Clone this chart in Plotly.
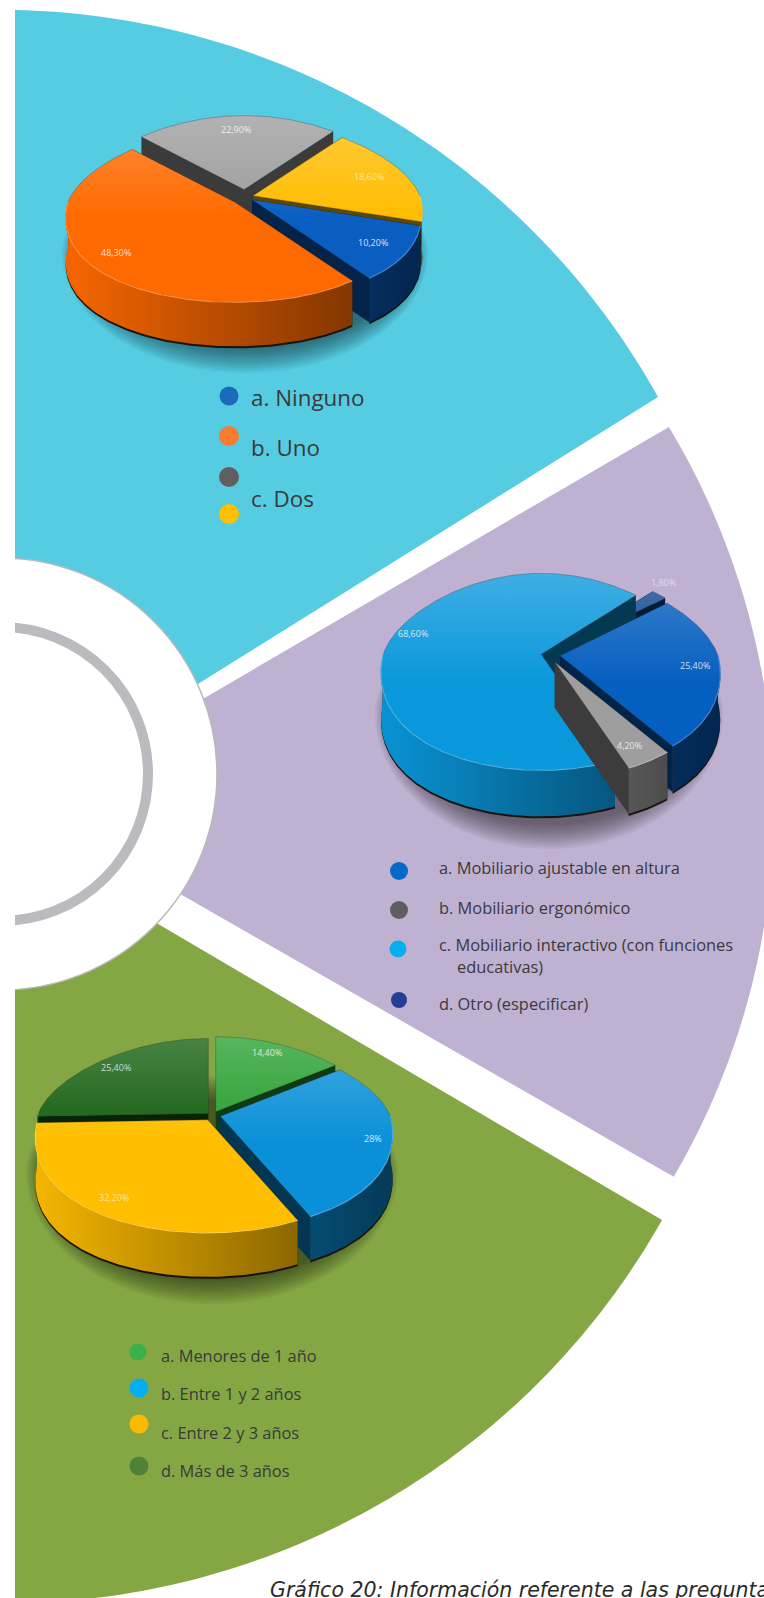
import math
import plotly.graph_objects as go

# ---------- data ----------
pie1_labels = ["a. Ninguno", "b. Uno", "c. Dos"]
pie1_values = [10.2, 48.3, 22.9, 18.6]
pie1_text = ["10,20%", "48,30%", "22,90%", "18,60%"]
pie2_labels = ["a. Mobiliario ajustable en altura", "b. Mobiliario ergonómico",
               "c. Mobiliario interactivo (con funciones", "educativas)", "d. Otro (especificar)"]
pie2_values = [25.4, 4.2, 68.6, 1.8]
pie2_text = ["25,40%", "4,20%", "68,60%", "1,80%"]
pie3_labels = ["a. Menores de 1 año", "b. Entre 1 y 2 años", "c. Entre 2 y 3 años", "d. Más de 3 años"]
pie3_values = [14.4, 28.0, 32.2, 25.4]
pie3_text = ["14,40%", "28%", "32,20%", "25,40%"]
caption = "Gráfico 20: Información referente a las preguntas"

# ---------- style ----------
W, H = 764, 1598
CYAN, PURPLE, GREEN = "#55CCE2", "#BFB1D2", "#84A744"
FONT = "'Open Sans', sans-serif"
PERSP = .17
PIES = [
    dict(values=pie1_values, text=pie1_text, cx=245, cy=197, a=167, bf=100, bb=74, th=44, start=15,
         pull=[.05, .08, .1, .05], colors=["#0A5EC2", "#FF6A00", "#9C9C9C", "#FFBC00"],
         lab_r=[.84, .87, .82, .74], lab_da=[-3, 6, 0, -2], lab_a=[.85, .8, .8, .6]),
    dict(values=pie2_values, text=pie2_text, cx=549, cy=655, a=158, bf=116, bb=81, th=46, start=-40.4,
         pull=[.07, .07, .05, .08], colors=["#055FC0", "#9E9E9E", "#0A98DC", "#134A96"],
         lab_r=[.86, .86, .85, 1.07], lab_da=[0, -2, 7.6, -8], lab_a=[.8, .8, .8, .55]),
    dict(values=pie3_values, text=pie3_text, cx=212, cy=1115, a=170, bf=113, bb=75, th=44, start=-90,
         pull=[.05, .05, .05, .03], colors=["#27A030", "#0A90D8", "#FFBE00", "#156010"],
         lab_r=[.85, .92, .88, .82], lab_da=[-5, 0, 8, 4], lab_a=[.8, .85, .6, .75]),
]
LEG_TEXT = "#3A3A3A"


def shade(c, f):
    r, g, b = int(c[1:3], 16), int(c[3:5], 16), int(c[5:7], 16)
    if f <= 1:
        r, g, b = r * f, g * f, b * f
    else:
        t = f - 1
        r, g, b = r + (255 - r) * t, g + (255 - g) * t, b + (255 - b) * t
    return f"rgb({int(r)},{int(g)},{int(b)})"


def fit_circle(p, q, r):
    ax, ay = p; bx, by = q; cx, cy = r
    d = 2 * (ax * (by - cy) + bx * (cy - ay) + cx * (ay - by))
    ux = ((ax**2 + ay**2) * (by - cy) + (bx**2 + by**2) * (cy - ay) + (cx**2 + cy**2) * (ay - by)) / d
    uy = ((ax**2 + ay**2) * (cx - bx) + (bx**2 + by**2) * (ax - cx) + (cx**2 + cy**2) * (bx - ax)) / d
    return ux, uy, math.hypot(ax - ux, ay - uy)


def arc_pts(c, p, q, n=80):
    ux, uy, R = c
    a0 = math.atan2(p[1] - uy, p[0] - ux)
    a1 = math.atan2(q[1] - uy, q[0] - ux)
    return [(ux + R * math.cos(a0 + (a1 - a0) * i / n), uy + R * math.sin(a0 + (a1 - a0) * i / n)) for i in range(n + 1)]


def path(pts):
    return "M" + " L".join(f"{x:.1f},{y:.1f}" for x, y in pts) + " Z"


shapes = []
c1 = fit_circle((15, 10), (357, 100), (658, 397))
shapes.append(dict(type="path", path=path(arc_pts(c1, (15, 10), (658, 397)) + [(15, 798)]), fillcolor=CYAN, line_width=0, layer="below"))
c2 = (38, 806, 736)
shapes.append(dict(type="path", path=path(arc_pts(c2, (672, 425), (674, 1177)) + [(100, 848), (100, 759)]), fillcolor=PURPLE, line_width=0, layer="below"))
c3 = fit_circle((662, 1220), (330, 1530), (240, 1566))
shapes.append(dict(type="path", path=path([(15, 840)] + arc_pts(c3, (662, 1220), (15, 1610)) + [(15, 1610)]), fillcolor=GREEN, line_width=0, layer="below"))
shapes.append(dict(type="circle", x0=1 - 216, x1=1 + 216, y0=774 - 216, y1=774 + 216, fillcolor="white", line=dict(color="#B7B9BC", width=1.5), layer="below"))
shapes.append(dict(type="circle", x0=1 - 147, x1=1 + 147, y0=774 - 147, y1=774 + 147, fillcolor="rgba(0,0,0,0)", line=dict(color="#B9BBBE", width=10), layer="below"))
shapes.append(dict(type="rect", x0=-5, x1=15, y0=-5, y1=H + 5, fillcolor="white", line_width=0, layer="below"))

fig = go.Figure()


def poly(xs, ys, **kw):
    fig.add_trace(go.Scatter(x=xs, y=ys, mode="lines", fill="toself", hoverinfo="skip", showlegend=False, **kw))


annotations = []
for P in PIES:
    cx, cy, a, bf, bb, th = P["cx"], P["cy"], P["a"], P["bf"], P["bb"], P["th"]
    total = sum(P["values"])

    def pt(ox, oy, deg, k=PERSP):
        t = math.radians(deg)
        s = math.sin(t)
        return ox + a * math.cos(t) * (1 + k * s), oy + (bf if s > 0 else bb) * s

    # soft shadow, below and slightly around the pie
    for n_s in range(11):
        g = 20 - n_s * 2.4
        xs, ys = [], []
        for d in range(0, 361, 4):
            x, y = pt(cx, cy + th + 12, d, 0)
            t = math.radians(d)
            xs.append(x + g * .8 * math.cos(t)); ys.append(y + g * math.sin(t))
        poly(xs, ys, line=dict(width=0), fillcolor="rgba(0,0,0,0.05)")

    wedges = []
    ang = P["start"]
    for v, col, pull, txt, lr, lda, la in zip(P["values"], P["colors"], P["pull"], P["text"], P["lab_r"], P["lab_da"], P["lab_a"]):
        span = v / total * 360
        wedges.append(dict(t0=ang, t1=ang + span, col=col, pull=pull, txt=txt, lr=lr, lda=lda, la=la))
        ang += span
    for w in wedges:
        w["mid"] = (w["t0"] + w["t1"]) / 2
    for w in sorted(wedges, key=lambda w: math.sin(math.radians(w["mid"]))):
        t = math.radians(w["mid"])
        s = math.sin(t)
        ox = cx + w["pull"] * a * math.cos(t)
        oy = cy + w["pull"] * (bf if s > 0 else bb) * s
        n = max(8, int(w["t1"] - w["t0"]))
        degs = [w["t0"] + (w["t1"] - w["t0"]) * i / n for i in range(n + 1)]
        arc = [pt(ox, oy, d) for d in degs]
        front = [pt(ox, oy, d) for d in degs if math.sin(math.radians(d)) >= -0.01]
        col = w["col"]
        for e in (arc[0], arc[-1]):
            poly([ox, e[0], e[0], ox, ox], [oy, e[1], e[1] + th, oy + th, oy],
                 line=dict(width=0), fillcolor=shade(col, .38))
        if len(front) > 1:
            poly([p[0] for p in front] + [p[0] for p in front[::-1]],
                 [p[1] + 2 for p in front] + [p[1] + th + 2 for p in front[::-1]],
                 line=dict(width=0), fillcolor="rgb(25,18,14)")
            poly([p[0] for p in front] + [p[0] for p in front[::-1]],
                 [p[1] for p in front] + [p[1] + th for p in front[::-1]],
                 line=dict(width=0),
                 fillgradient=dict(type="horizontal", start=cx - a, stop=cx + a,
                                   colorscale=[[0, shade(col, .95)], [1, shade(col, .42)]]))
        poly([ox] + [p[0] for p in arc] + [ox], [oy] + [p[1] for p in arc] + [oy],
             line=dict(width=.7, color="rgba(40,40,40,0.4)"),
             fillgradient=dict(type="vertical", start=cy - bb, stop=cy + bf,
                               colorscale=[[0, shade(col, 1.22)], [.55, col], [1, col]]))
        if len(front) > 1:
            fig.add_trace(go.Scatter(x=[p[0] for p in front], y=[p[1] for p in front], mode="lines", hoverinfo="skip",
                                     showlegend=False, line=dict(width=1.2, color=shade(col, 1.25))))
        lx, ly = pt(ox, oy, w["mid"] + w["lda"], 0)
        annotations.append(dict(x=ox + (lx - ox) * w["lr"], y=oy + (ly - oy) * w["lr"], text=w["txt"], showarrow=False,
                                font=dict(family="'Open Sans', sans-serif", size=9, color=f"rgba(255,255,255,{w['la']})")))


def legend(marks, texts, size):
    for x, y, d, c in marks:
        fig.add_trace(go.Scatter(x=[x], y=[y], mode="markers", hoverinfo="skip", showlegend=False,
                                 marker=dict(size=d, color=c, line_width=0)))
    for x, y, t in texts:
        annotations.append(dict(x=x, y=y, text=t, showarrow=False, xanchor="left",
                                font=dict(family=FONT, size=size, color=LEG_TEXT)))


legend([(229, 396, 19, "#1C6BBA"), (229, 436, 20, "#F77B30"), (229, 477, 20, "#5F5F5F"), (229, 514, 20, "#FFC000")],
       [(249, 397, pie1_labels[0]), (249, 447, pie1_labels[1]), (249, 498, pie1_labels[2])], 22.4)
legend([(399, 871, 18, "#0569C9"), (399, 910, 18, "#5E5E5E"), (398, 949, 17, "#05AEEF"), (399, 1000, 16, "#233F95")],
       [(437, 867, pie2_labels[0]), (437, 907, pie2_labels[1]), (437, 944, pie2_labels[2]),
        (455, 966, pie2_labels[3]), (437, 1003, pie2_labels[4])], 16.4)
legend([(138, 1352, 17, "#3CB04A"), (139, 1388, 19, "#05AEEF"), (139, 1424, 19, "#FFB900"), (139, 1466, 19, "#518139")],
       [(159, 1355, pie3_labels[0]), (159, 1393, pie3_labels[1]), (159, 1432, pie3_labels[2]), (159, 1470, pie3_labels[3])], 16.4)

annotations.append(dict(x=268, y=1590, text="<i>" + caption + "</i>", showarrow=False, xanchor="left",
                        font=dict(family="'DejaVu Sans', sans-serif", size=20.5, color="#2A2A2A")))

fig.update_layout(width=W, height=H, margin=dict(l=0, r=0, t=0, b=0), paper_bgcolor="white", plot_bgcolor="white",
                  xaxis=dict(range=[0, W], visible=False, fixedrange=True),
                  yaxis=dict(range=[H, 0], visible=False, fixedrange=True),
                  shapes=shapes, annotations=annotations, showlegend=False)
fig.write_html("out.html", config=dict(displayModeBar=False),
               post_script="document.body.style.margin='0';document.documentElement.style.overflow='hidden';")
